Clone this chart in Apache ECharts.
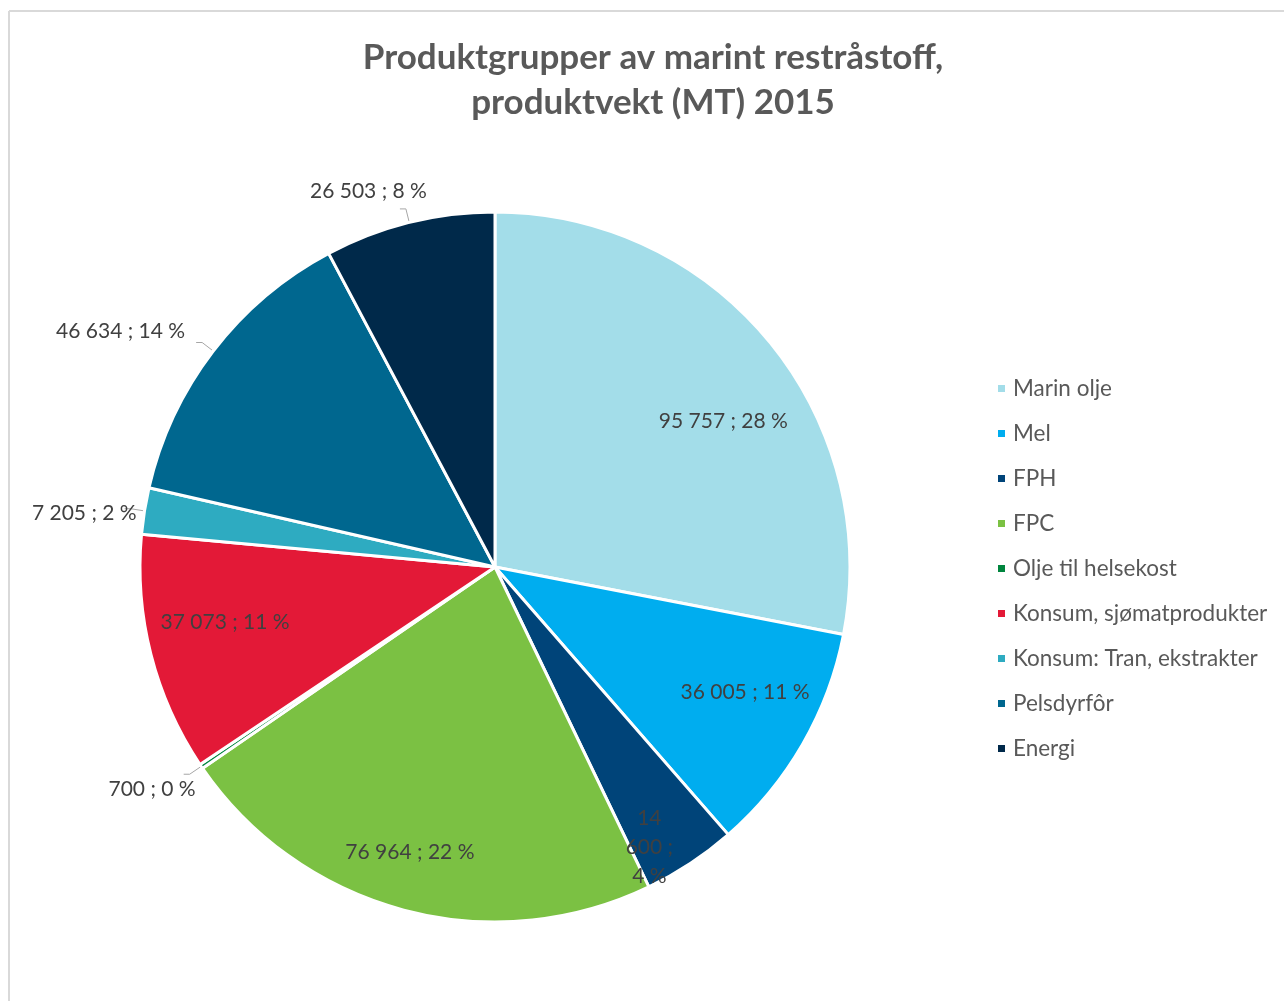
<!DOCTYPE html>
<html>
<head>
<meta charset="utf-8">
<style>
  html, body { margin: 0; padding: 0; background: #fff; }
  #chart { width: 1284px; height: 1001px; }
</style>
<script src="https://cdn.jsdelivr.net/npm/echarts@6/dist/echarts.min.js"></script>
</head>
<body>
<div id="chart"></div>
<script>
const categories = ['Marin olje', 'Mel', 'FPH', 'FPC', 'Olje til helsekost',
  'Konsum, sjømatprodukter', 'Konsum: Tran, ekstrakter', 'Pelsdyrfôr', 'Energi'];
const values = [95757, 36005, 14600, 76964, 700, 37073, 7205, 46634, 26503];
const colors = ['#a3dde9', '#00adef', '#004479', '#7bc143', '#00853e',
  '#e31937', '#2eabc1', '#00678f', '#00294a'];
const insideLabels = ['Marin olje', 'Mel', 'FPC', 'Konsum, sjømatprodukter'];
const outerEdgeLabels = ['FPH'];
const outsideLabels = ['Olje til helsekost', 'Konsum: Tran, ekstrakter', 'Pelsdyrfôr', 'Energi'];

// small label nudges (styling only) to mimic the original label placement
const labelNudge = {
  'Marin olje': [12, 33],
  'Mel': [7, -15],
  'FPC': [-13, 14],
  'Konsum, sjømatprodukter': [2, -14],
  'FPH': [-22, 13],
  'Energi': [32, -18],
  'Pelsdyrfôr': [-6, -11],
  'Konsum: Tran, ekstrakter': [17, 5],
  'Olje til helsekost': [17, 15]
};

const FONT = 'Lato';
const fmtNum = v => String(v).replace(/\B(?=(\d{3})+(?!\d))/g, ' ');
const center = [495, 567];
const R = 355;

function makeData(showList, transparent) {
  return categories.map((name, i) => ({
    name,
    value: values[i],
    itemStyle: transparent ? { color: 'rgba(0,0,0,0)', borderWidth: 0 } : { color: colors[i] },
    label: { show: showList.indexOf(name) >= 0 },
    labelLine: { show: showList.indexOf(name) >= 0 }
  }));
}
function nudge(params) {
  const n = labelNudge[categories[params.dataIndex]] || [0, 0];
  return { dx: n[0], dy: n[1] };
}

const chart = echarts.init(document.getElementById('chart'));
chart.setOption({
  animation: false,
  title: {
    text: 'Produktgrupper av marint restråstoff,\nproduktvekt (MT) 2015',
    left: 648,
    textAlign: 'center',
    top: 30,
    textStyle: { fontFamily: FONT, fontWeight: 'bold', fontSize: 35, color: '#595959', lineHeight: 45 }
  },
  legend: {
    orient: 'vertical',
    left: 991,
    top: 372,
    itemWidth: 9,
    itemHeight: 9,
    itemGap: 22,
    icon: 'rect',
    data: categories,
    textStyle: { fontFamily: FONT, fontSize: 22.5, color: '#595959', padding: [0, 0, 0, 2] }
  },
  graphic: [
    { type: 'line', shape: { x1: 9, y1: 11, x2: 9, y2: 1001 }, style: { stroke: '#d9d9d9', lineWidth: 2 }, silent: true },
    { type: 'line', shape: { x1: 9, y1: 11, x2: 1284, y2: 11 }, style: { stroke: '#d9d9d9', lineWidth: 2 }, silent: true }
  ],
  series: [
    {
      type: 'pie',
      center: center,
      radius: R,
      startAngle: 90,
      clockwise: true,
      percentPrecision: 0,
      avoidLabelOverlap: false,
      itemStyle: { borderColor: '#fff', borderWidth: 3 },
      emphasis: { disabled: true },
      label: {
        position: 'outside',
        formatter: p => fmtNum(p.value) + ' ; ' + p.percent + ' %',
        fontFamily: FONT, fontSize: 21, color: '#404040'
      },
      labelLine: { length: 14, length2: 6, lineStyle: { color: '#a6a6a6', width: 1 } },
      labelLayout: nudge,
      data: makeData(outsideLabels, false)
    },
    {
      type: 'pie',
      center: center,
      radius: [200, R],
      startAngle: 90,
      clockwise: true,
      percentPrecision: 0,
      silent: true,
      emphasis: { disabled: true },
      label: {
        position: 'inside',
        formatter: p => fmtNum(p.value) + ' ; ' + p.percent + ' %',
        fontFamily: FONT, fontSize: 21, color: '#404040'
      },
      labelLayout: nudge,
      data: makeData(insideLabels, true)
    },
    {
      type: 'pie',
      center: center,
      radius: [280, R],
      startAngle: 90,
      clockwise: true,
      percentPrecision: 0,
      silent: true,
      emphasis: { disabled: true },
      label: {
        position: 'inside',
        formatter: p => fmtNum(p.value).replace(' ', '\n') + ' ;\n' + p.percent + ' %',
        fontFamily: FONT, fontSize: 21, color: '#404040', lineHeight: 29
      },
      labelLayout: nudge,
      data: makeData(outerEdgeLabels, true)
    }
  ]
});
</script>
</body>
</html>
